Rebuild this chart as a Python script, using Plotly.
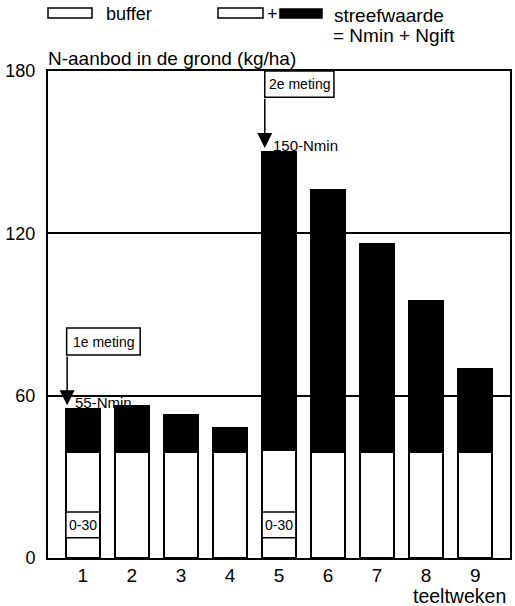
import plotly.graph_objects as go

weeks = [1, 2, 3, 4, 5, 6, 7, 8, 9]
week_labels = ["1", "2", "3", "4", "5", "6", "7", "8", "9"]
buffer_vals = [39, 39, 39, 39, 40, 39, 39, 39, 39]
target_vals = [55, 56, 53, 48, 150, 136, 116, 95, 70]
extra_vals = [t - b for t, b in zip(target_vals, buffer_vals)]
y_ticks = [0, 60, 120, 180]

FONT = "Liberation Sans, Arial, sans-serif"
W, H = 515, 606
# plot area in page pixels: x 48..510, y 71..558
PL, PR, PT, PB = 48, 510, 71, 558
L, T, R, B = PL, PT, W - PR, H - PB
PW, PH = PR - PL, PB - PT


def px(x):
    return (x - PL) / PW


def py(y):
    return (PB - y) / PH


def txt(x, y, text, size, xanchor="center", ref="paper"):
    return dict(x=x, y=y, xref=ref, yref=ref, text=text, showarrow=False,
                xanchor=xanchor, yanchor="middle",
                font=dict(family=FONT, size=size, color="black"))


def dtxt(x, y, text, size, xanchor="center"):
    a = txt(x, y, text, size, xanchor)
    a.update(xref="x", yref="y")
    return a


fig = go.Figure()
fig.add_bar(x=weeks, y=buffer_vals, marker=dict(color="white", line=dict(color="black", width=2)),
            width=0.69, showlegend=False)
fig.add_bar(x=weeks, y=extra_vals, marker=dict(color="black", line=dict(color="black", width=2)),
            width=0.69, showlegend=False)

shapes = []
annotations = []

# 0-30 boxes in bars 1 and 5
for wk in [1, 5]:
    shapes.append(dict(type="rect", xref="x", yref="y", x0=wk - 0.345, x1=wk + 0.345, y0=7.5, y1=17,
                       fillcolor="white", line=dict(color="black", width=1.5), layer="above"))
    annotations.append(dtxt(wk, 12.2, "0-30", 14))

# measurement boxes
shapes.append(dict(type="rect", xref="x", yref="y", x0=0.67, x1=2.17, y0=75, y1=85,
                   fillcolor="white", line=dict(color="black", width=1.5)))
annotations.append(dtxt(1.42, 80, "1e meting", 14))
shapes.append(dict(type="rect", xref="x", yref="y", x0=4.71, x1=6.12, y0=170.3, y1=180,
                   fillcolor="white", line=dict(color="black", width=1.5)))
annotations.append(dtxt(5.415, 175.2, "2e meting", 14))

# arrows
annotations.append(dict(x=0.68, y=56.5, ax=0.68, ay=75, xref="x", yref="y", axref="x", ayref="y",
                        text="", showarrow=True, arrowhead=2, arrowsize=2, arrowwidth=1.5,
                        arrowcolor="black"))
annotations.append(dict(x=4.71, y=151.5, ax=4.71, ay=170.3, xref="x", yref="y", axref="x", ayref="y",
                        text="", showarrow=True, arrowhead=2, arrowsize=2, arrowwidth=1.5,
                        arrowcolor="black"))
annotations.append(dtxt(0.79, 57.3, "55-Nmin", 15, xanchor="left"))
annotations.append(dtxt(4.83, 152.5, "150-Nmin", 15, xanchor="left"))

# legend
shapes.append(dict(type="rect", xref="paper", yref="paper", x0=px(48), x1=px(92), y0=py(18), y1=py(8),
                   fillcolor="white", line=dict(color="black", width=1.5)))
annotations.append(txt(px(104), py(14), "buffer", 18, xanchor="left"))
shapes.append(dict(type="rect", xref="paper", yref="paper", x0=px(218), x1=px(263), y0=py(18), y1=py(8),
                   fillcolor="white", line=dict(color="black", width=1.5)))
annotations.append(txt(px(272), py(14), "+", 18))
shapes.append(dict(type="rect", xref="paper", yref="paper", x0=px(280), x1=px(322), y0=py(18), y1=py(9),
                   fillcolor="black", line=dict(color="black", width=1.5)))
annotations.append(txt(px(332), py(15), "streefwaarde", 19, xanchor="left"))
annotations.append(txt(px(331), py(36), "= Nmin + Ngift", 19, xanchor="left"))

# axis titles
annotations.append(txt(px(46), py(58), "N-aanbod in de grond (kg/ha)", 19, xanchor="left"))
annotations.append(txt(px(459), py(596), "teeltweken", 19.5))

fig.update_layout(
    width=W, height=H, margin=dict(l=L, r=R, t=T, b=B, pad=0),
    barmode="stack", plot_bgcolor="white", paper_bgcolor="white",
    font=dict(family=FONT, size=17, color="black"),
    shapes=shapes, annotations=annotations,
    xaxis=dict(range=[0.29, 9.71], tickvals=weeks, ticktext=week_labels, showgrid=False,
               showline=True, mirror=True, linecolor="black", linewidth=2, ticks="",
               ticklabelstandoff=-1, zeroline=False, tickfont=dict(size=19), automargin=False),
    yaxis=dict(range=[0, 180], tickvals=y_ticks, showgrid=True, gridcolor="black", gridwidth=1.5,
               showline=True, mirror=True, linecolor="black", linewidth=2, ticks="",
               ticklabelstandoff=7, zeroline=False, tickfont=dict(size=18), automargin=False),
)

fig.write_html("out.html", config={"displayModeBar": False},
               post_script="document.body.style.margin='0px';")
